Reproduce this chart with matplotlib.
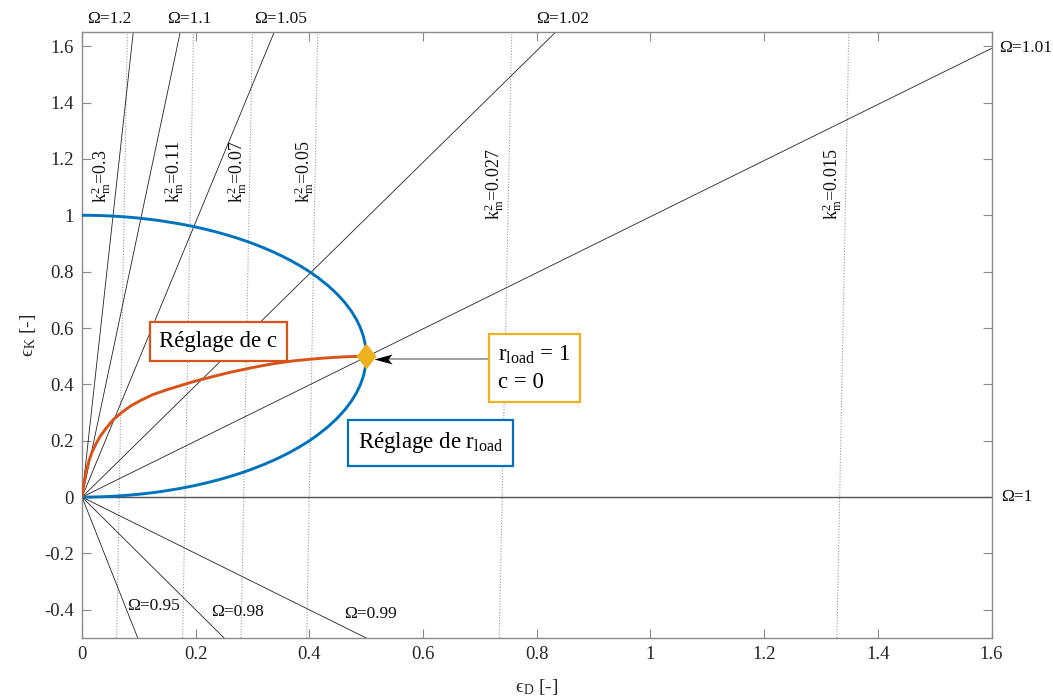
import matplotlib
matplotlib.use("Agg")
import matplotlib.pyplot as plt
from matplotlib.path import Path

plt.rcParams['font.family'] = ['Liberation Serif', 'DejaVu Serif']
plt.rcParams['mathtext.fontset'] = 'custom'
plt.rcParams['mathtext.rm'] = 'Liberation Serif'
plt.rcParams['mathtext.it'] = 'Liberation Serif:italic'
plt.rcParams['mathtext.default'] = 'regular'
plt.rcParams['mathtext.fallback'] = 'stix'

# ---------------- data ----------------
# constant-Omega lines through the origin (slope d eps_K / d eps_D)
omega_values = [1.2, 1.1, 1.05, 1.02, 1.01, 1.0, 0.99, 0.98, 0.95]
omega_slopes = [18.3, 9.55, 4.88, 1.98, 0.995, 0.0, -1.0, -2.0, -5.1]

# constant k_m^2 lines (eps_D read at eps_K = -0.5 and eps_K = 1.65)
km2_values = [0.3, 0.11, 0.07, 0.05, 0.027, 0.015]
km2_eK_ends = [-0.5, 1.65]
km2_eD_low = [0.061, 0.177, 0.2797, 0.3953, 0.734, 1.328]
km2_eD_high = [0.0797, 0.196, 0.2997, 0.4146, 0.756, 1.349]

# "Réglage de r_load" curve (blue): eps_D along each branch,
# eps_K on the lower branch (from the origin) and on the upper branch (from eps_K = 1)
rload_eD = [0.0, 0.01414, 0.02449, 0.0387, 0.0499, 0.0705, 0.0863, 0.0995, 0.1216, 0.14,
            0.1706, 0.196, 0.2179, 0.2375, 0.2551, 0.2713, 0.2862, 0.3, 0.319, 0.3363,
            0.3521, 0.3666, 0.3842, 0.4, 0.4142, 0.433, 0.449, 0.4625, 0.4737, 0.4828,
            0.4899, 0.4951, 0.4984, 0.4996, 0.5]
rload_eK_lower = [0.0, 0.0002, 0.0006, 0.0015, 0.0025, 0.005, 0.0075, 0.01, 0.015, 0.02,
                  0.03, 0.04, 0.05, 0.06, 0.07, 0.08, 0.09, 0.1, 0.115, 0.13,
                  0.145, 0.16, 0.18, 0.2, 0.22, 0.25, 0.28, 0.31, 0.34, 0.37,
                  0.4, 0.43, 0.46, 0.48, 0.5]
rload_eK_upper = [1.0, 0.9998, 0.9994, 0.9985, 0.9975, 0.995, 0.9925, 0.99, 0.985, 0.98,
                  0.97, 0.96, 0.95, 0.94, 0.93, 0.92, 0.91, 0.9, 0.885, 0.87,
                  0.855, 0.84, 0.82, 0.8, 0.78, 0.75, 0.72, 0.69, 0.66, 0.63,
                  0.6, 0.57, 0.54, 0.52, 0.5]

# "Réglage de c" curve (orange)
c_eD = [0.0, 0.001, 0.0035, 0.0055, 0.0082, 0.012, 0.017, 0.024, 0.0317, 0.043,
        0.055, 0.069, 0.0845, 0.104, 0.125, 0.148, 0.172, 0.2, 0.231, 0.26,
        0.29, 0.315, 0.34, 0.37, 0.403, 0.427, 0.45, 0.475, 0.5]
c_eK = [0.0, 0.022, 0.05, 0.071, 0.097, 0.127, 0.157, 0.187, 0.215, 0.246,
        0.275, 0.299, 0.322, 0.344, 0.364, 0.38, 0.395, 0.412, 0.428, 0.4425,
        0.4555, 0.4655, 0.4745, 0.483, 0.4895, 0.4935, 0.4965, 0.4988, 0.5]

# operating point r_load = 1, c = 0
op_eD = [0.5]
op_eK = [0.5]

x_ticks = [0, 0.2, 0.4, 0.6, 0.8, 1.0, 1.2, 1.4, 1.6]
x_ticklabels = ['0', '0.2', '0.4', '0.6', '0.8', '1', '1.2', '1.4', '1.6']
y_ticks = [-0.4, -0.2, 0, 0.2, 0.4, 0.6, 0.8, 1.0, 1.2, 1.4, 1.6]
y_ticklabels = ['-0.4', '-0.2', '0', '0.2', '0.4', '0.6', '0.8', '1', '1.2', '1.4', '1.6']

# ---------------- layout ----------------
BLUE = '#0072BD'
ORANGE = '#D95319'
YELLOW = '#EDB120'
SPINE = '#8a8a8a'

omega_label_pos = {
    1.2: (0.0484, 1.695, 'center'), 1.1: (0.189, 1.695, 'center'),
    1.05: (0.350, 1.695, 'center'), 1.02: (0.846, 1.695, 'center'),
    1.01: (1.614, 1.592, 'left'), 1.0: (1.617, 0.0, 'left'),
    0.99: (0.507, -0.416, 'center'), 0.98: (0.273, -0.408, 'center'),
    0.95: (0.1265, -0.386, 'center'),
}
km2_label_x = [0.0343, 0.162, 0.2736, 0.3906, 0.724, 1.320]
km2_label_y = [1.045, 1.045, 1.045, 1.045, 0.984, 0.984]

fig = plt.figure(figsize=(10.53, 6.97), dpi=100)
ax = fig.add_axes([0.0779, 0.0846, 0.8637, 0.8694])
ax.set_xlim(0, 1.6)
ax.set_ylim(-0.5, 1.65)

# k_m^2 dotted lines
for k, lo, hi, lx, ly in zip(km2_values, km2_eD_low, km2_eD_high, km2_label_x, km2_label_y):
    ax.plot([lo, hi], km2_eK_ends, linestyle=(0, (1, 1.5)), color='#9a9a9a', lw=0.8, zorder=1)
    ax.text(lx, ly, 'k$_m^2$=' + ('%g' % k), rotation=90, ha='center', va='bottom',
            fontsize=13, color='#111111', zorder=3)

# Omega lines
for om, s in zip(omega_values, omega_slopes):
    col = '#555555' if om == 1.0 else '#222222'
    lw = 1.0 if om == 1.0 else 0.6
    ax.plot([0, 1.6], [0, s * 1.6], color=col, lw=lw, zorder=2)
    lx, ly, ha = omega_label_pos[om]
    ax.text(lx, ly, 'Ω=' + ('%g' % om), ha=ha, va='center', fontsize=12.5,
            color='#111111', clip_on=False)

# curves
ax.plot(rload_eD, rload_eK_lower, color=BLUE, lw=2.1, zorder=4, solid_capstyle='round')
ax.plot(rload_eD, rload_eK_upper, color=BLUE, lw=2.1, zorder=4, solid_capstyle='round')
ax.plot(c_eD, c_eK, color=ORANGE, lw=2.1, zorder=4, solid_capstyle='round')

diamond = Path([(0, 1.1), (0.85, 0), (0, -1.1), (-0.85, 0), (0, 1.1)],
               [Path.MOVETO, Path.LINETO, Path.LINETO, Path.LINETO, Path.CLOSEPOLY])
ax.plot(op_eD, op_eK, linestyle='none', marker=diamond, markersize=17,
        color=YELLOW, markeredgecolor=YELLOW, zorder=6)

# arrow from the annotation box to the operating point
ax.plot([0.712, 0.522], [0.49, 0.49], color='#a0a0a0', lw=1.4, zorder=5)
arrow_head = Path([(-1, 0), (1, 0.55), (0.55, 0), (1, -0.55), (-1, 0)],
                  [Path.MOVETO, Path.LINETO, Path.LINETO, Path.LINETO, Path.CLOSEPOLY])
ax.plot([0.53], [0.49], linestyle='none', marker=arrow_head, markersize=13,
        color='black', markeredgewidth=0, zorder=6)

# text boxes
ax.text(0.240, 0.553, 'Réglage de c', ha='center', va='center', fontsize=16.5,
        bbox=dict(boxstyle='square,pad=0.4', fc='white', ec=ORANGE, lw=1.6), zorder=7)
ax.text(0.613, 0.192, 'Réglage de r$_{load}$', ha='center', va='center', fontsize=16.5,
        bbox=dict(boxstyle='square,pad=0.45', fc='white', ec=BLUE, lw=1.6), zorder=7)
ax.text(0.796, 0.457, 'r$_{load}$ = 1\nc = 0', ha='center', va='center', fontsize=16.5,
        multialignment='left', linespacing=1.4,
        bbox=dict(boxstyle='square,pad=0.4', fc='white', ec=YELLOW, lw=1.6), zorder=7)

# axes styling
ax.set_xticks(x_ticks)
ax.set_xticklabels(x_ticklabels)
ax.set_yticks(y_ticks)
ax.set_yticklabels(y_ticklabels)
ax.tick_params(direction='in', length=6.5, width=0.8, color=SPINE,
               top=True, right=True, labelsize=13.5, labelcolor='#262626', pad=6)
for sp in ax.spines.values():
    sp.set_color(SPINE)
    sp.set_linewidth(1.0)

ax.set_xlabel('$\u03f5_D$ [-]', fontsize=14, color='#262626', labelpad=10)
ax.set_ylabel('$\u03f5_K$ [-]', fontsize=14, color='#262626', labelpad=4)

fig.savefig('out.png', dpi=100)
